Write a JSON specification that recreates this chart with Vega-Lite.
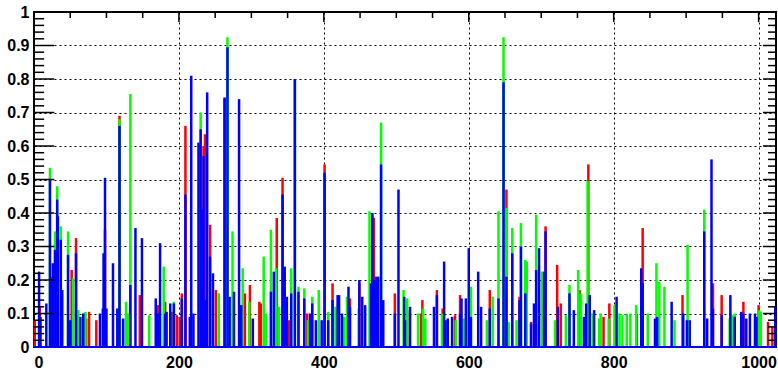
{
"$schema": "https://vega.github.io/schema/vega-lite/v6.json",
"width": 742, "height": 335,
"autosize": {"type": "none"},
"padding": {"left": 34, "top": 12, "right": 2, "bottom": 24},
"background": "white",
"config": {"view": {"stroke": "#000", "strokeWidth": 2},
 "axis": {"domain": false, "ticks": false, "labelFont": "Liberation Sans", "labelFontWeight": "bold", "labelFontSize": 16, "labelColor": "#000", "gridColor": "#000", "gridDash": [2, 3], "gridWidth": 1, "labelOverlap": false}},
"datasets": {
"ytick": [{"v":0.02},{"v":0.04},{"v":0.06},{"v":0.08},{"v":0.12},{"v":0.14},{"v":0.16},{"v":0.18},{"v":0.22},{"v":0.24},{"v":0.26},{"v":0.28},{"v":0.32},{"v":0.34},{"v":0.36},{"v":0.38},{"v":0.42},{"v":0.44},{"v":0.46},{"v":0.48},{"v":0.52},{"v":0.54},{"v":0.56},{"v":0.58},{"v":0.62},{"v":0.64},{"v":0.66},{"v":0.68},{"v":0.72},{"v":0.74},{"v":0.76},{"v":0.78},{"v":0.82},{"v":0.84},{"v":0.86},{"v":0.88},{"v":0.92},{"v":0.94},{"v":0.96},{"v":0.98}],
"ymajor": [{"v":0.1},{"v":0.2},{"v":0.3},{"v":0.4},{"v":0.5},{"v":0.6},{"v":0.7},{"v":0.8},{"v":0.9}],
"xtick": [{"v":50},{"v":100},{"v":150},{"v":250},{"v":300},{"v":350},{"v":450},{"v":500},{"v":550},{"v":650},{"v":700},{"v":750},{"v":850},{"v":900},{"v":950}],
"xmajor": [{"v":200},{"v":400},{"v":600},{"v":800},{"v":1000}],
"h": [
{"bin":1,"value":0.08,"series":"r"},{"bin":8,"value":0.12,"series":"r"},{"bin":52,"value":0.23,"series":"r"},{"bin":58,"value":0.325,"series":"r"},{"bin":72,"value":0.085,"series":"r"},{"bin":76,"value":0.105,"series":"r"},{"bin":86,"value":0.08,"series":"r"},{"bin":98,"value":0.35,"series":"r"},{"bin":118,"value":0.69,"series":"r"},{"bin":146,"value":0.155,"series":"r"},{"bin":171,"value":0.125,"series":"r"},{"bin":181,"value":0.135,"series":"r"},{"bin":190,"value":0.105,"series":"r"},{"bin":197,"value":0.095,"series":"r"},{"bin":201,"value":0.09,"series":"r"},{"bin":204,"value":0.16,"series":"r"},{"bin":209,"value":0.66,"series":"r"},{"bin":234,"value":0.6,"series":"r"},{"bin":236,"value":0.635,"series":"r"},{"bin":243,"value":0.365,"series":"r"},{"bin":251,"value":0.17,"series":"r"},{"bin":263,"value":0.74,"series":"r"},{"bin":291,"value":0.16,"series":"r"},{"bin":298,"value":0.185,"series":"r"},{"bin":311,"value":0.135,"series":"r"},{"bin":313,"value":0.13,"series":"r"},{"bin":335,"value":0.385,"series":"r"},{"bin":343,"value":0.505,"series":"r"},{"bin":352,"value":0.08,"series":"r"},{"bin":377,"value":0.1,"series":"r"},{"bin":401,"value":0.545,"series":"r"},{"bin":412,"value":0.19,"series":"r"},{"bin":436,"value":0.145,"series":"r"},{"bin":449,"value":0.19,"series":"r"},{"bin":467,"value":0.39,"series":"r"},{"bin":469,"value":0.385,"series":"r"},{"bin":498,"value":0.16,"series":"r"},{"bin":515,"value":0.11,"series":"r"},{"bin":534,"value":0.1,"series":"r"},{"bin":536,"value":0.14,"series":"r"},{"bin":556,"value":0.17,"series":"r"},{"bin":564,"value":0.115,"series":"r"},{"bin":581,"value":0.095,"series":"r"},{"bin":588,"value":0.155,"series":"r"},{"bin":629,"value":0.17,"series":"r"},{"bin":652,"value":0.47,"series":"r"},{"bin":670,"value":0.15,"series":"r"},{"bin":686,"value":0.075,"series":"r"},{"bin":706,"value":0.36,"series":"r"},{"bin":722,"value":0.245,"series":"r"},{"bin":727,"value":0.13,"series":"r"},{"bin":753,"value":0.17,"series":"r"},{"bin":765,"value":0.545,"series":"r"},{"bin":786,"value":0.09,"series":"r"},{"bin":794,"value":0.13,"series":"r"},{"bin":832,"value":0.1,"series":"r"},{"bin":840,"value":0.355,"series":"r"},{"bin":895,"value":0.155,"series":"r"},{"bin":937,"value":0.19,"series":"r"},{"bin":949,"value":0.155,"series":"r"},{"bin":979,"value":0.135,"series":"r"},{"bin":1000,"value":0.125,"series":"r"},{"bin":1013,"value":0.075,"series":"r"},{"bin":1019,"value":0.06,"series":"r"},
{"bin":22,"value":0.535,"series":"g"},{"bin":24,"value":0.21,"series":"g"},{"bin":29,"value":0.345,"series":"g"},{"bin":32,"value":0.48,"series":"g"},{"bin":37,"value":0.36,"series":"g"},{"bin":47,"value":0.345,"series":"g"},{"bin":54,"value":0.205,"series":"g"},{"bin":61,"value":0.11,"series":"g"},{"bin":68,"value":0.1,"series":"g"},{"bin":71,"value":0.105,"series":"g"},{"bin":118,"value":0.68,"series":"g"},{"bin":127,"value":0.135,"series":"g"},{"bin":130,"value":0.1,"series":"g"},{"bin":133,"value":0.755,"series":"g"},{"bin":159,"value":0.095,"series":"g"},{"bin":179,"value":0.24,"series":"g"},{"bin":193,"value":0.135,"series":"g"},{"bin":230,"value":0.7,"series":"g"},{"bin":255,"value":0.16,"series":"g"},{"bin":267,"value":0.925,"series":"g"},{"bin":274,"value":0.345,"series":"g"},{"bin":288,"value":0.235,"series":"g"},{"bin":297,"value":0.135,"series":"g"},{"bin":317,"value":0.27,"series":"g"},{"bin":320,"value":0.1,"series":"g"},{"bin":327,"value":0.35,"series":"g"},{"bin":334,"value":0.235,"series":"g"},{"bin":338,"value":0.12,"series":"g"},{"bin":355,"value":0.235,"series":"g"},{"bin":360,"value":0.8,"series":"g"},{"bin":365,"value":0.18,"series":"g"},{"bin":373,"value":0.175,"series":"g"},{"bin":378,"value":0.08,"series":"g"},{"bin":384,"value":0.15,"series":"g"},{"bin":393,"value":0.17,"series":"g"},{"bin":406,"value":0.105,"series":"g"},{"bin":416,"value":0.12,"series":"g"},{"bin":419,"value":0.11,"series":"g"},{"bin":428,"value":0.09,"series":"g"},{"bin":432,"value":0.15,"series":"g"},{"bin":448,"value":0.115,"series":"g"},{"bin":463,"value":0.405,"series":"g"},{"bin":479,"value":0.67,"series":"g"},{"bin":510,"value":0.17,"series":"g"},{"bin":515,"value":0.145,"series":"g"},{"bin":530,"value":0.1,"series":"g"},{"bin":537,"value":0.115,"series":"g"},{"bin":540,"value":0.085,"series":"g"},{"bin":563,"value":0.1,"series":"g"},{"bin":582,"value":0.08,"series":"g"},{"bin":593,"value":0.085,"series":"g"},{"bin":603,"value":0.18,"series":"g"},{"bin":625,"value":0.08,"series":"g"},{"bin":633,"value":0.15,"series":"g"},{"bin":641,"value":0.405,"series":"g"},{"bin":648,"value":0.925,"series":"g"},{"bin":652,"value":0.415,"series":"g"},{"bin":655,"value":0.075,"series":"g"},{"bin":660,"value":0.355,"series":"g"},{"bin":666,"value":0.08,"series":"g"},{"bin":672,"value":0.37,"series":"g"},{"bin":678,"value":0.26,"series":"g"},{"bin":680,"value":0.255,"series":"g"},{"bin":693,"value":0.395,"series":"g"},{"bin":701,"value":0.225,"series":"g"},{"bin":719,"value":0.08,"series":"g"},{"bin":734,"value":0.095,"series":"g"},{"bin":739,"value":0.185,"series":"g"},{"bin":751,"value":0.23,"series":"g"},{"bin":755,"value":0.16,"series":"g"},{"bin":764,"value":0.495,"series":"g"},{"bin":771,"value":0.1,"series":"g"},{"bin":780,"value":0.085,"series":"g"},{"bin":782,"value":0.1,"series":"g"},{"bin":793,"value":0.085,"series":"g"},{"bin":801,"value":0.125,"series":"g"},{"bin":808,"value":0.1,"series":"g"},{"bin":812,"value":0.095,"series":"g"},{"bin":818,"value":0.1,"series":"g"},{"bin":823,"value":0.1,"series":"g"},{"bin":831,"value":0.125,"series":"g"},{"bin":847,"value":0.1,"series":"g"},{"bin":859,"value":0.25,"series":"g"},{"bin":863,"value":0.195,"series":"g"},{"bin":870,"value":0.18,"series":"g"},{"bin":884,"value":0.08,"series":"g"},{"bin":902,"value":0.305,"series":"g"},{"bin":925,"value":0.41,"series":"g"},{"bin":960,"value":0.085,"series":"g"},{"bin":964,"value":0.095,"series":"g"},{"bin":967,"value":0.1,"series":"g"},{"bin":1001,"value":0.11,"series":"g"},{"bin":1003,"value":0.105,"series":"g"},
{"bin":7,"value":0.225,"series":"b"},{"bin":9,"value":0.09,"series":"b"},{"bin":17,"value":0.13,"series":"b"},{"bin":22,"value":0.5,"series":"b"},{"bin":24,"value":0.205,"series":"b"},{"bin":26,"value":0.25,"series":"b"},{"bin":29,"value":0.29,"series":"b"},{"bin":32,"value":0.44,"series":"b"},{"bin":33,"value":0.39,"series":"b"},{"bin":37,"value":0.32,"series":"b"},{"bin":39,"value":0.17,"series":"b"},{"bin":47,"value":0.275,"series":"b"},{"bin":50,"value":0.08,"series":"b"},{"bin":58,"value":0.28,"series":"b"},{"bin":64,"value":0.09,"series":"b"},{"bin":68,"value":0.1,"series":"b"},{"bin":91,"value":0.1,"series":"b"},{"bin":95,"value":0.115,"series":"b"},{"bin":96,"value":0.28,"series":"b"},{"bin":98,"value":0.505,"series":"b"},{"bin":100,"value":0.115,"series":"b"},{"bin":109,"value":0.25,"series":"b"},{"bin":115,"value":0.115,"series":"b"},{"bin":118,"value":0.66,"series":"b"},{"bin":123,"value":0.085,"series":"b"},{"bin":133,"value":0.185,"series":"b"},{"bin":140,"value":0.355,"series":"b"},{"bin":149,"value":0.325,"series":"b"},{"bin":168,"value":0.145,"series":"b"},{"bin":171,"value":0.1,"series":"b"},{"bin":174,"value":0.31,"series":"b"},{"bin":181,"value":0.1,"series":"b"},{"bin":183,"value":0.105,"series":"b"},{"bin":188,"value":0.13,"series":"b"},{"bin":193,"value":0.13,"series":"b"},{"bin":204,"value":0.145,"series":"b"},{"bin":209,"value":0.455,"series":"b"},{"bin":215,"value":0.09,"series":"b"},{"bin":217,"value":0.81,"series":"b"},{"bin":220,"value":0.1,"series":"b"},{"bin":227,"value":0.61,"series":"b"},{"bin":230,"value":0.65,"series":"b"},{"bin":232,"value":0.41,"series":"b"},{"bin":234,"value":0.57,"series":"b"},{"bin":236,"value":0.14,"series":"b"},{"bin":239,"value":0.76,"series":"b"},{"bin":243,"value":0.27,"series":"b"},{"bin":247,"value":0.22,"series":"b"},{"bin":263,"value":0.745,"series":"b"},{"bin":267,"value":0.895,"series":"b"},{"bin":270,"value":0.15,"series":"b"},{"bin":276,"value":0.165,"series":"b"},{"bin":283,"value":0.74,"series":"b"},{"bin":286,"value":0.125,"series":"b"},{"bin":302,"value":0.085,"series":"b"},{"bin":327,"value":0.165,"series":"b"},{"bin":331,"value":0.225,"series":"b"},{"bin":343,"value":0.455,"series":"b"},{"bin":346,"value":0.24,"series":"b"},{"bin":349,"value":0.15,"series":"b"},{"bin":355,"value":0.16,"series":"b"},{"bin":360,"value":0.8,"series":"b"},{"bin":365,"value":0.165,"series":"b"},{"bin":373,"value":0.145,"series":"b"},{"bin":381,"value":0.1,"series":"b"},{"bin":384,"value":0.13,"series":"b"},{"bin":389,"value":0.08,"series":"b"},{"bin":397,"value":0.08,"series":"b"},{"bin":401,"value":0.52,"series":"b"},{"bin":406,"value":0.08,"series":"b"},{"bin":412,"value":0.14,"series":"b"},{"bin":419,"value":0.155,"series":"b"},{"bin":421,"value":0.155,"series":"b"},{"bin":425,"value":0.1,"series":"b"},{"bin":434,"value":0.18,"series":"b"},{"bin":436,"value":0.12,"series":"b"},{"bin":449,"value":0.2,"series":"b"},{"bin":453,"value":0.15,"series":"b"},{"bin":457,"value":0.125,"series":"b"},{"bin":465,"value":0.19,"series":"b"},{"bin":467,"value":0.4,"series":"b"},{"bin":469,"value":0.2,"series":"b"},{"bin":472,"value":0.21,"series":"b"},{"bin":475,"value":0.21,"series":"b"},{"bin":479,"value":0.545,"series":"b"},{"bin":482,"value":0.14,"series":"b"},{"bin":498,"value":0.1,"series":"b"},{"bin":503,"value":0.47,"series":"b"},{"bin":511,"value":0.15,"series":"b"},{"bin":512,"value":0.08,"series":"b"},{"bin":519,"value":0.12,"series":"b"},{"bin":552,"value":0.12,"series":"b"},{"bin":556,"value":0.155,"series":"b"},{"bin":566,"value":0.255,"series":"b"},{"bin":568,"value":0.08,"series":"b"},{"bin":571,"value":0.085,"series":"b"},{"bin":577,"value":0.09,"series":"b"},{"bin":588,"value":0.1,"series":"b"},{"bin":590,"value":0.145,"series":"b"},{"bin":596,"value":0.145,"series":"b"},{"bin":600,"value":0.295,"series":"b"},{"bin":603,"value":0.09,"series":"b"},{"bin":613,"value":0.225,"series":"b"},{"bin":617,"value":0.12,"series":"b"},{"bin":629,"value":0.115,"series":"b"},{"bin":641,"value":0.145,"series":"b"},{"bin":648,"value":0.79,"series":"b"},{"bin":652,"value":0.21,"series":"b"},{"bin":660,"value":0.28,"series":"b"},{"bin":670,"value":0.14,"series":"b"},{"bin":672,"value":0.3,"series":"b"},{"bin":678,"value":0.16,"series":"b"},{"bin":686,"value":0.07,"series":"b"},{"bin":690,"value":0.13,"series":"b"},{"bin":693,"value":0.23,"series":"b"},{"bin":697,"value":0.295,"series":"b"},{"bin":704,"value":0.225,"series":"b"},{"bin":706,"value":0.345,"series":"b"},{"bin":723,"value":0.12,"series":"b"},{"bin":739,"value":0.16,"series":"b"},{"bin":745,"value":0.11,"series":"b"},{"bin":759,"value":0.09,"series":"b"},{"bin":762,"value":0.13,"series":"b"},{"bin":767,"value":0.155,"series":"b"},{"bin":773,"value":0.11,"series":"b"},{"bin":804,"value":0.15,"series":"b"},{"bin":838,"value":0.235,"series":"b"},{"bin":840,"value":0.19,"series":"b"},{"bin":857,"value":0.085,"series":"b"},{"bin":860,"value":0.09,"series":"b"},{"bin":880,"value":0.135,"series":"b"},{"bin":896,"value":0.1,"series":"b"},{"bin":901,"value":0.08,"series":"b"},{"bin":905,"value":0.08,"series":"b"},{"bin":925,"value":0.345,"series":"b"},{"bin":929,"value":0.085,"series":"b"},{"bin":935,"value":0.56,"series":"b"},{"bin":937,"value":0.115,"series":"b"},{"bin":949,"value":0.095,"series":"b"},{"bin":961,"value":0.155,"series":"b"},{"bin":967,"value":0.09,"series":"b"},{"bin":976,"value":0.105,"series":"b"},{"bin":979,"value":0.1,"series":"b"},{"bin":983,"value":0.085,"series":"b"},{"bin":988,"value":0.1,"series":"b"},{"bin":995,"value":0.1,"series":"b"},{"bin":997,"value":0.09,"series":"b"},{"bin":1023,"value":0.12,"series":"b"}
]},
"layer": [
 {"data": {"name": "h"},
  "mark": {"type": "rule", "strokeWidth": 2.5},
  "encoding": {
   "x": {"field": "bin", "type": "quantitative", "scale": {"domain": [0, 1024], "nice": false, "zero": false},
     "axis": {"orient": "bottom", "title": null, "values": [0,200,400,600,800,1000], "format": "d", "labelPadding": 7}},
   "y": {"field": "value", "type": "quantitative", "scale": {"domain": [0, 1], "nice": false},
     "axis": {"orient": "left", "title": null, "values": [0,0.1,0.2,0.3,0.4,0.5,0.6,0.7,0.8,0.9,1], "format": ".1~f", "labelPadding": 5}},
   "y2": {"datum": 0},
   "color": {"field": "series", "type": "nominal", "scale": {"domain": ["r", "g", "b"], "range": ["#ff0000", "#00ff00", "#0000ff"]}, "legend": null}
  }},
 {"data": {"name": "ytick"}, "mark": {"type": "rule", "color": "#000", "strokeWidth": 1.5},
  "encoding": {"y": {"field": "v", "type": "quantitative", "axis": null}, "x": {"datum": 0, "type": "quantitative", "axis": null}, "x2": {"datum": 14}}},
 {"data": {"name": "ymajor"}, "mark": {"type": "rule", "color": "#000", "strokeWidth": 1.5},
  "encoding": {"y": {"field": "v", "type": "quantitative", "axis": null}, "x": {"datum": 0, "type": "quantitative", "axis": null}, "x2": {"datum": 28}}},
 {"data": {"name": "ytick"}, "mark": {"type": "rule", "color": "#000", "strokeWidth": 1.5},
  "encoding": {"y": {"field": "v", "type": "quantitative", "axis": null}, "x": {"datum": 1024, "type": "quantitative", "axis": null}, "x2": {"datum": 1013}}},
 {"data": {"name": "ymajor"}, "mark": {"type": "rule", "color": "#000", "strokeWidth": 1.5},
  "encoding": {"y": {"field": "v", "type": "quantitative", "axis": null}, "x": {"datum": 1024, "type": "quantitative", "axis": null}, "x2": {"datum": 1006}}},
 {"data": {"name": "xtick"}, "mark": {"type": "rule", "color": "#000", "strokeWidth": 1.5},
  "encoding": {"x": {"field": "v", "type": "quantitative", "axis": null}, "y": {"datum": 1, "type": "quantitative", "axis": null}, "y2": {"datum": 0.982}}},
 {"data": {"name": "xmajor"}, "mark": {"type": "rule", "color": "#000", "strokeWidth": 1.5},
  "encoding": {"x": {"field": "v", "type": "quantitative", "axis": null}, "y": {"datum": 1, "type": "quantitative", "axis": null}, "y2": {"datum": 0.97}}},
 {"data": {"name": "h"}, "mark": {"type": "rule", "color": "#0000ff", "strokeWidth": 1.5},
  "encoding": {"y": {"datum": 0, "type": "quantitative", "axis": null}}}
],
"resolve": {"axis": {"x": "independent", "y": "independent"}}
}
